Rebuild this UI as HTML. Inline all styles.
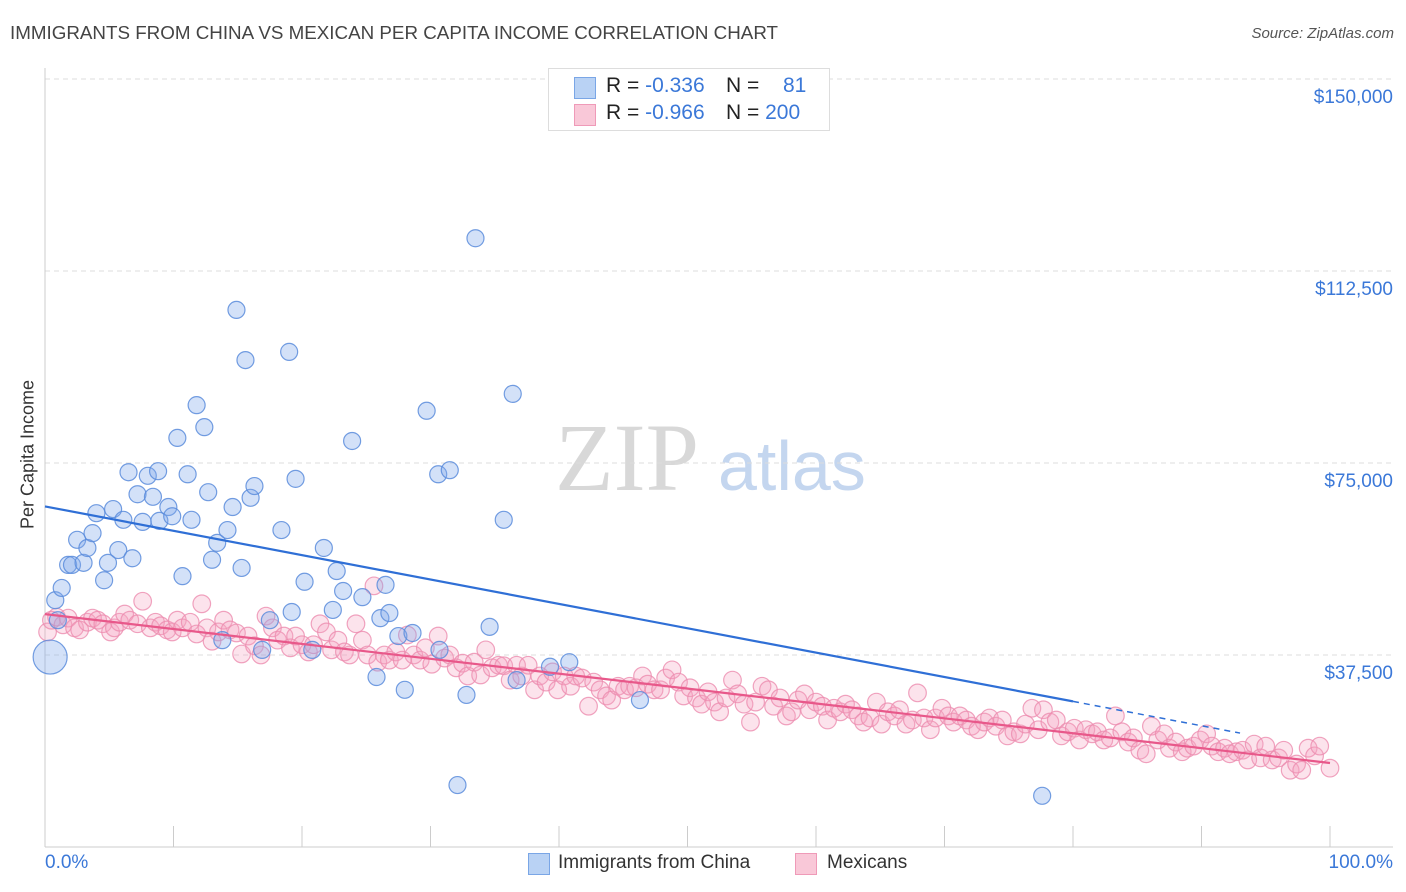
<!DOCTYPE html>
<html><head><meta charset="utf-8">
<style>
body{margin:0;background:#fff;font-family:"Liberation Sans",sans-serif;}
#wrap{position:relative;width:1406px;height:892px;overflow:hidden;}
.t{position:absolute;white-space:nowrap;}
</style></head>
<body>
<div id="wrap">
<div class="t" style="left:10px;top:22px;font-size:18.8px;color:#444;">IMMIGRANTS FROM CHINA VS MEXICAN PER CAPITA INCOME CORRELATION CHART</div>
<div class="t" style="right:12px;top:25px;font-size:15px;color:#555;font-style:italic;">Source: ZipAtlas.com</div>
<svg id="svg" width="1406" height="892" style="position:absolute;left:0;top:0"></svg>
</div>
<script>
const chinaX=[0.4,0.8,1.0,1.3,1.8,2.1,2.5,3.0,3.3,3.7,4.0,4.6,4.9,5.3,5.7,6.1,6.5,6.8,7.2,7.6,8.0,8.4,8.8,8.9,9.6,9.9,10.3,10.7,11.1,11.4,11.8,12.4,12.7,13.0,13.4,13.8,14.2,14.6,14.9,15.3,15.6,16.0,16.3,16.9,17.5,18.4,19.0,19.2,19.5,20.2,20.8,21.7,22.4,22.7,23.2,23.9,24.7,25.8,26.1,26.5,26.8,27.5,28.0,28.6,29.7,30.6,31.5,30.7,32.1,32.8,33.5,34.6,35.7,36.4,36.7,39.3,40.8,46.3,77.6];
const chinaY=[37.1,48.2,44.3,50.6,55.1,55.1,60.0,55.5,58.4,61.3,65.2,52.1,55.5,66.0,58.0,63.9,73.2,56.4,68.9,63.5,72.5,68.4,73.4,63.7,66.4,64.6,79.9,52.9,72.8,63.9,86.3,82.0,69.3,56.1,59.4,40.4,61.9,66.4,104.9,54.5,95.1,68.2,70.5,38.5,44.3,61.9,96.7,45.9,71.9,51.8,38.5,58.4,46.3,53.9,50.0,79.3,48.8,33.2,44.7,51.2,45.7,41.2,30.7,41.8,85.2,72.8,73.6,38.5,12.1,29.7,118.9,43.0,63.9,88.5,32.6,35.2,36.1,28.7,10.0];
const mexX=[0.2,0.5,0.9,1.4,1.8,2.3,2.7,3.3,3.7,4.1,4.5,5.1,5.4,5.8,6.2,6.6,7.2,7.6,8.2,8.6,9.0,9.5,9.9,10.3,10.7,11.3,11.8,12.2,12.6,13.0,13.5,13.9,14.4,14.9,15.3,15.8,16.3,16.8,17.2,17.7,18.1,18.6,19.1,19.5,20.0,20.5,20.9,21.4,21.9,22.3,22.8,23.3,23.7,24.2,24.7,25.1,25.6,25.9,26.4,26.8,27.3,27.8,28.2,28.7,29.2,29.6,30.1,30.6,31.1,31.5,32.0,32.5,32.9,33.4,33.9,34.3,34.8,35.3,35.7,36.2,36.7,37.1,37.6,38.1,38.5,39.0,39.5,39.9,40.4,40.9,41.3,41.8,42.3,42.7,43.2,43.7,44.1,44.6,45.1,45.5,46.0,46.5,46.9,47.4,47.9,48.3,48.8,49.3,49.7,50.2,50.7,51.1,51.6,52.1,52.5,53.0,53.5,53.9,54.4,54.9,55.3,55.8,56.3,56.7,57.2,57.7,58.1,58.6,59.1,59.5,60.0,60.5,60.9,61.4,61.9,62.3,62.8,63.3,63.7,64.2,64.7,65.1,65.6,66.1,66.5,67.0,67.5,67.9,68.4,68.9,69.3,69.8,70.3,70.7,71.2,71.7,72.1,72.6,73.1,73.5,74.0,74.5,74.9,75.4,75.9,76.3,76.8,77.3,77.7,78.2,78.7,79.1,79.6,80.1,80.5,81.0,81.5,81.9,82.4,82.9,83.3,83.8,84.3,84.7,85.2,85.7,86.1,86.6,87.1,87.5,88.0,88.5,88.9,89.4,89.9,90.4,90.8,91.3,91.8,92.2,92.7,93.2,93.6,94.1,94.6,95.0,95.5,96.0,96.4,96.9,97.4,97.8,98.3,98.8,99.2,100];
const mexY=[42.0,44.3,44.9,43.4,44.7,42.8,42.4,43.9,44.7,44.3,43.6,42.0,42.8,43.9,45.5,44.3,43.6,48.0,42.8,43.9,43.2,42.4,42.0,44.3,42.8,43.9,41.6,47.5,42.8,40.2,42.0,44.3,42.4,41.8,37.7,41.2,39.3,37.5,45.1,42.8,40.4,41.2,38.9,41.2,39.5,38.1,39.5,43.6,42.0,38.5,40.4,38.1,37.5,43.6,40.4,37.5,51.0,36.1,37.5,36.5,38.1,36.5,41.4,37.5,36.5,38.9,35.7,41.2,36.9,37.5,35.0,35.9,33.4,36.1,33.6,38.5,35.0,35.5,35.4,32.6,35.5,33.4,35.5,30.7,33.4,32.2,34.2,30.7,33.4,31.4,33.4,33.0,27.5,32.2,30.7,29.5,28.7,31.4,30.7,31.4,31.1,33.4,31.8,30.7,30.7,33.0,34.6,32.2,29.5,31.1,29.1,27.9,30.3,28.3,26.4,29.1,32.6,29.9,27.9,24.4,28.3,31.4,30.7,27.5,29.1,25.6,26.4,28.7,29.9,26.8,28.3,27.5,24.8,27.1,26.4,27.9,26.8,25.6,24.4,25.2,28.3,24.0,26.4,25.6,26.8,24.0,24.8,30.1,25.2,22.9,25.2,27.1,25.6,24.4,25.6,24.8,23.6,22.9,24.4,25.2,23.6,24.8,21.7,22.5,22.1,24.0,27.1,22.9,26.8,24.4,24.8,21.7,22.5,23.2,20.9,22.9,22.1,22.5,20.9,21.3,25.6,22.5,20.5,21.3,18.9,18.2,23.6,20.9,22.1,19.3,20.5,18.6,19.3,19.7,20.9,22.1,19.7,18.6,19.3,18.2,18.6,18.9,17.0,20.1,17.4,19.7,17.0,17.4,18.9,15.0,16.2,15.0,19.3,17.8,19.7,15.4];
const yTicks=[37.5,75,112.5,150];
const yTickLabels=["$37,500","$75,000","$112,500","$150,000"];
const xTicks=[0,10,20,30,40,50,60,70,80,90,100];

const X0=45,X1=1330,YB=847,PPK=192/37.5;
const sx=v=>X0+(X1-X0)*v/100;
const sy=v=>YB-v*PPK;
const svg=document.getElementById('svg');
const NS='http://www.w3.org/2000/svg';
function mk(tag,attrs,parent){const e=document.createElementNS(NS,tag);for(const k in attrs)e.setAttribute(k,attrs[k]);(parent||svg).appendChild(e);return e;}

let wm=mk('text',{x:555,y:490,'font-family':'Liberation Serif,serif','font-size':96,fill:'#d8d8d8'});wm.textContent='ZIP';


let wm2=mk('text',{x:718,y:490,'font-family':'Liberation Sans,sans-serif','font-size':70,fill:'#c4d6ef'});wm2.textContent='atlas';



yTicks.forEach((t,i)=>{
  const g=mk('line',{x1:X0,x2:1393,y1:sy(t),y2:sy(t),stroke:'#dcdcdc','stroke-dasharray':'5,4'});
  
  
  const l=mk('text',{x:1393,y:sy(t)+24,'text-anchor':'end','font-size':19,fill:'#3b78d8'});
  l.textContent=yTickLabels[i];
  
  
});
mk('line',{x1:X0,x2:1393,y1:79,y2:79,stroke:'#dcdcdc','stroke-dasharray':'5,4'});
const ya=mk('line',{x1:X0,x2:X0,y1:68,y2:YB,stroke:'#ccc'});


const xa=mk('line',{x1:X0,x2:1393,y1:YB,y2:YB,stroke:'#ccc'});


xTicks.forEach(t=>{
  const tk=mk('line',{x1:sx(t),x2:sx(t),y1:826,y2:YB,stroke:'#ccc'});
  
  
});

function reg(xs,ys){const n=xs.length;let mx=0,my=0;for(let i=0;i<n;i++){mx+=xs[i];my+=ys[i];}mx/=n;my/=n;let a=0,b=0;for(let i=0;i<n;i++){a+=(xs[i]-mx)*(ys[i]-my);b+=(xs[i]-mx)**2;}const s=a/b;return [s,my-s*mx];}

mexX.forEach((x,i)=>{
  const c=mk('circle',{cx:sx(x),cy:sy(mexY[i]),r:8.8,fill:'rgba(244,163,192,0.3)',stroke:'rgba(236,140,175,0.8)','stroke-width':1.2});
  
  
});
chinaX.forEach((x,i)=>{
  const c=mk('circle',{cx:sx(x),cy:sy(chinaY[i]),r:i===0?17:8.5,fill:'rgba(130,170,235,0.35)',stroke:'rgba(90,140,220,0.85)','stroke-width':1.2});
  
  
});
const [mb,bb]=reg(mexX,mexY);
const pl=mk('line',{x1:sx(0),y1:sy(bb),x2:sx(100),y2:sy(bb+mb*100),stroke:'#e8588a','stroke-width':2.2});


const [cm,cb]=reg(chinaX,chinaY);
const bl=mk('line',{x1:sx(0),y1:sy(cb),x2:sx(80),y2:sy(cb+cm*80),stroke:'#2f6fd6','stroke-width':2.2});


const bd=mk('line',{x1:sx(80),y1:sy(cb+cm*80),x2:sx(93),y2:sy(cb+cm*93),stroke:'#2f6fd6','stroke-width':1.5,'stroke-dasharray':'6,5'});


</script>

<div class="t" style="left:-52px;top:444px;width:160px;text-align:center;font-size:18px;color:#333;transform:rotate(-90deg);">Per Capita Income</div>
<div class="t" style="left:45px;top:852px;font-size:19px;color:#3b78d8;">0.0%</div>
<div class="t" style="right:13px;top:852px;font-size:19px;color:#3b78d8;">100.0%</div>

<div style="position:absolute;left:548px;top:68px;width:280px;height:61px;border:1px solid #ddd;background:#fff;font-size:21px;">
  <div style="position:absolute;left:25px;top:8px;width:20px;height:20px;background:#b9d2f4;border:1px solid #7aa6e6;"></div>
  <div class="t" style="left:57px;top:5px;color:#222;">R = <span style="color:#3b78d8">-0.336</span></div>
  <div class="t" style="left:177px;top:5px;color:#222;">N =</div>
  <div class="t" style="left:234px;top:5px;color:#3b78d8;">81</div>
  <div style="position:absolute;left:25px;top:35px;width:20px;height:20px;background:#f9c8d8;border:1px solid #ef9ab8;"></div>
  <div class="t" style="left:57px;top:32px;color:#222;">R = <span style="color:#3b78d8">-0.966</span></div>
  <div class="t" style="left:177px;top:32px;color:#222;">N = <span style="color:#3b78d8">200</span></div>
</div>

<div style="position:absolute;left:528px;top:853px;width:20px;height:20px;background:#b9d2f4;border:1px solid #7aa6e6;"></div>
<div class="t" style="left:558px;top:852px;font-size:19px;color:#333;">Immigrants from China</div>
<div style="position:absolute;left:795px;top:853px;width:20px;height:20px;background:#f9c8d8;border:1px solid #ef9ab8;"></div>
<div class="t" style="left:827px;top:852px;font-size:19px;color:#333;">Mexicans</div>
</body></html>
